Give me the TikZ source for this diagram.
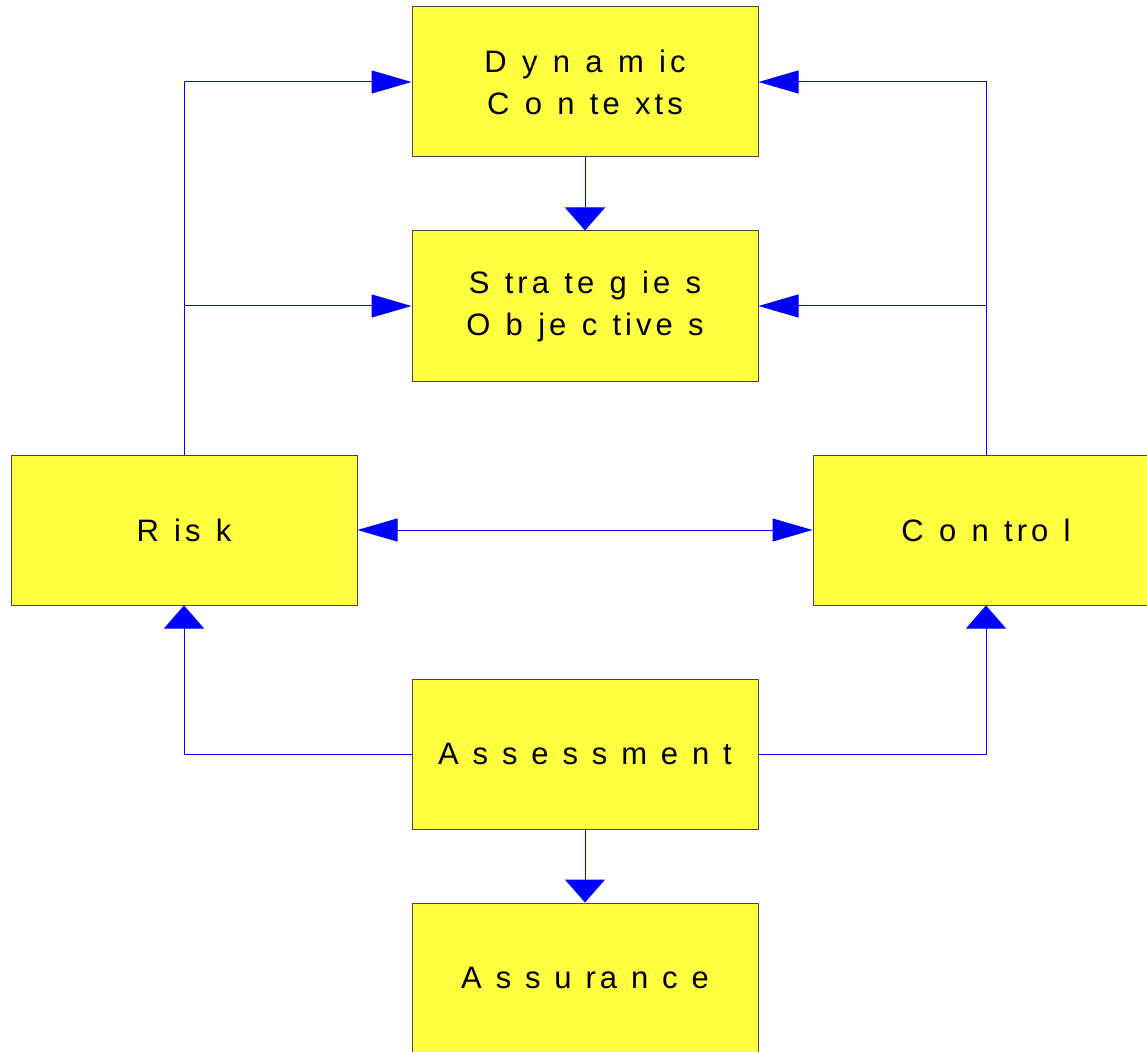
\documentclass[tikz,border=0pt]{standalone}
\usepackage{fontspec}
\setmainfont{Liberation Sans}
\usetikzlibrary{arrows.meta}
\definecolor{boxfill}{RGB}{255,255,64}
\definecolor{boxline}{RGB}{70,70,70}
\definecolor{conn}{RGB}{0,0,255}
\newcommand\gp{\kern11.5pt}
\newcommand\gq{\kern10.4pt}
\newcommand\lk{\kern3pt}
\begin{document}
\begin{tikzpicture}[x=0.75pt,y=-0.75pt,
  blk/.style={draw=boxline,line width=0.75pt,fill=boxfill,minimum width=259.5pt,minimum height=112.5pt,inner sep=0pt,align=center,
    font=\fontsize{23.25}{31.5}\selectfont},
  conline/.style={draw=conn,line width=0.75pt},
  harrow/.style={conline,-{Triangle[length=30pt,width=17.25pt]}},
  varrow/.style={conline,-{Triangle[length=17.25pt,width=30pt]}},
  dharrow/.style={conline,{Triangle[length=30pt,width=17.25pt]}-{Triangle[length=30pt,width=17.25pt]}}]
\useasboundingbox (0,0) rectangle (1147,1052);
\clip (0,0) rectangle (1147,1052);
\fill[white] (0,0) rectangle (1147,1052);
\node[blk] (dyn) at (585,82) {D\gp y\gp n\gp a\gp m\gp i\lk c\\C\gp o\gp n\gp t\lk e\gp x\lk t\lk s};
\node[blk] (strat) at (585,306) {S\gp t\lk r\lk a\gp t\lk e\gp g\gp i\lk e\gp s\\O\gp b\gp j\lk e\gp c\gp t\lk i\lk v\lk e\gp s};
\node[blk] (risk) at (184,530) {R\gp i\lk s\gp k};
\node[blk] (ctrl) at (986,530) {C\gp o\gp n\gp t\lk r\lk o\gp l};
\node[blk] (assess) at (585,754) {A\gq s\gq s\gq e\gq s\gq s\gq m\gq e\gq n\gq t};
\node[blk] (assur) at (585,978) {A\gq s\gq s\gq u\gq r\lk a\gq n\gq c\gq e};
\draw[harrow] (risk.north) |- (dyn.west);
\draw[harrow] (risk.north) |- (strat.west);
\draw[harrow] (ctrl.north) |- (dyn.east);
\draw[harrow] (ctrl.north) |- (strat.east);
\draw[varrow] (dyn.south) -- (strat.north);
\draw[dharrow] (risk.east) -- (ctrl.west);
\draw[varrow] (assess.west) -| (risk.south);
\draw[varrow] (assess.east) -| (ctrl.south);
\draw[varrow] (assess.south) -- (assur.north);
\end{tikzpicture}
\end{document}
